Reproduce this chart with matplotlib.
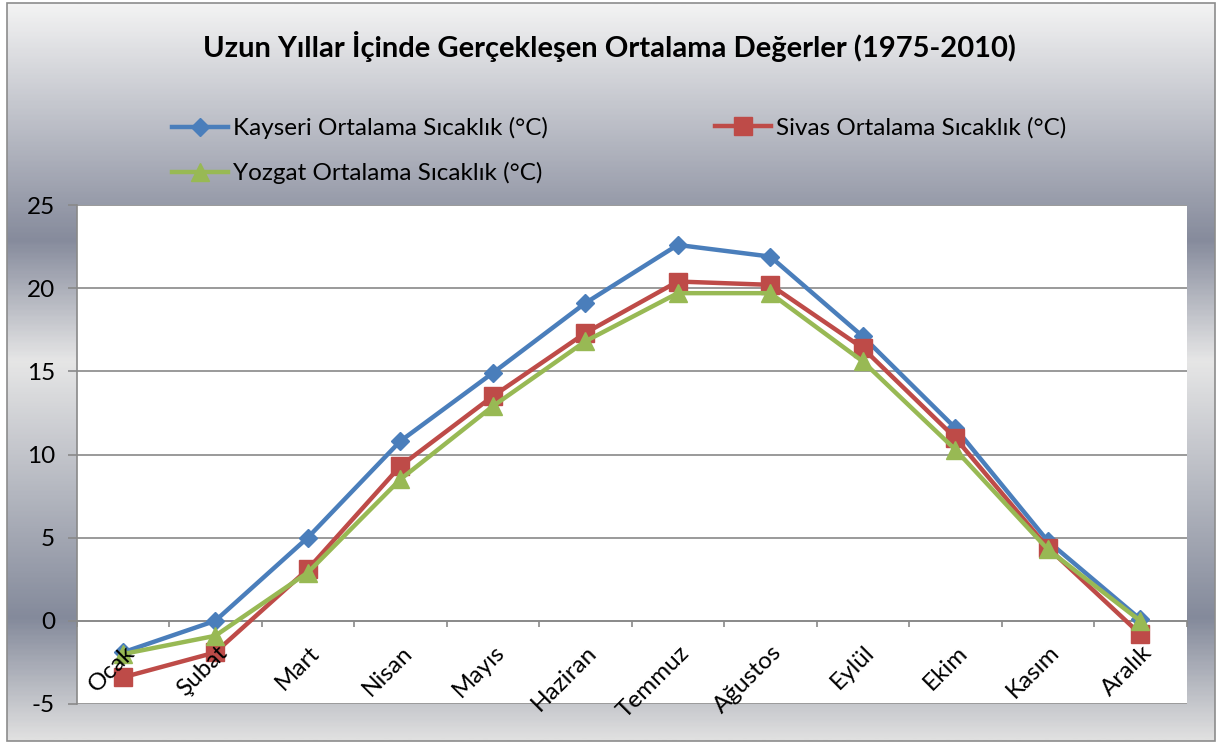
import numpy as np
import matplotlib
matplotlib.use('Agg')
import matplotlib.pyplot as plt
from matplotlib.colors import LinearSegmentedColormap
from matplotlib.patches import Rectangle
from matplotlib.lines import Line2D
from matplotlib.transforms import ScaledTranslation

plt.rcParams['font.family'] = ['Lato', 'DejaVu Sans']
plt.rcParams['axes.unicode_minus'] = False

months = ['Ocak', 'Şubat', 'Mart', 'Nisan', 'Mayıs', 'Haziran',
          'Temmuz', 'Ağustos', 'Eylül', 'Ekim', 'Kasım', 'Aralık']
kayseri = [-1.9, 0.0, 5.0, 10.8, 14.9, 19.1, 22.6, 21.9, 17.1, 11.6, 4.8, 0.1]
sivas = [-3.4, -1.9, 3.1, 9.3, 13.5, 17.3, 20.4, 20.2, 16.4, 11.0, 4.4, -0.8]
yozgat = [-2.0, -0.9, 2.9, 8.5, 12.9, 16.8, 19.7, 19.7, 15.6, 10.3, 4.3, 0.0]
series_names = ['Kayseri Ortalama Sıcaklık (°C)', 'Sivas Ortalama Sıcaklık (°C)',
                'Yozgat Ortalama Sıcaklık (°C)']
title = 'Uzun Yıllar İçinde Gerçekleşen Ortalama Değerler (1975-2010)'
yticks = [-5, 0, 5, 10, 15, 20, 25]

W, H = 1217, 743
FS = 17.5
fig = plt.figure(figsize=(W / 100, H / 100), dpi=100)
fig.patch.set_facecolor('white')

# arka plan gradyanı
bg = fig.add_axes([0, 0, 1, 1], zorder=-5)
bg.set_xlim(0, W); bg.set_ylim(H, 0); bg.axis('off')
cmap = LinearSegmentedColormap.from_list('chrome', [
    (0.0, '#f3f3f3'), (0.32, '#868b9c'), (0.485, '#e6e6e6'),
    (0.835, '#848a9b'), (1.0, '#e0e0e0')])
grad = np.linspace(0, 1, 400).reshape(-1, 1)
bg.imshow(grad, cmap=cmap, aspect='auto', extent=(7, 1215, 741, 3),
          interpolation='bilinear')
bg.add_patch(Rectangle((7, 3), 1208, 738, fill=False, edgecolor='#8c8c8c', lw=1.2))

ax = fig.add_axes([76.5 / W, 39 / H, 1110 / W, 499 / H])
ax.set_facecolor('white')
x = np.arange(len(months))
grid_c = '#898989'

# yatay ızgara çizgileri verinin altında
for yv in yticks:
    ax.axhline(yv, color=grid_c, lw=1.2, zorder=1)

styles = [(kayseri, '#4a7ebb', 'D', 9.5), (sivas, '#be4b48', 's', 13),
          (yozgat, '#98b954', '^', 13)]
for (vals, c, m, ms), name in zip(styles, series_names):
    ax.plot(x, vals, color=c, lw=3.2, marker=m, ms=ms, mec=c, mfc=c, label=name,
            zorder=2, clip_on=False)

ax.set_xlim(-0.5, 11.5)
ax.set_ylim(-5, 25)
ax.set_yticks(yticks)
ax.set_axisbelow(False)
for s in ['top', 'right']:
    ax.spines[s].set_visible(False)
for s in ['left', 'bottom']:
    ax.spines[s].set_color(grid_c)
    ax.spines[s].set_linewidth(1.2)
    ax.spines[s].set_zorder(1)
ax.spines['bottom'].set_position(('data', 0))
ax.tick_params(axis='y', length=6.5, width=1.2, color=grid_c, labelsize=FS,
               pad=9, labelcolor='black')

ax.set_xticks(x)
ax.set_xticklabels(months, rotation=45, ha='right', va='top',
                   rotation_mode='anchor', fontsize=FS)
ax.set_xticks(np.arange(-0.5, 12, 1), minor=True)
ax.tick_params(axis='x', which='major', length=0, pad=15)
ax.tick_params(axis='x', which='minor', length=4, width=1.2, color=grid_c)
off = ScaledTranslation(1 / 100, 0, fig.dpi_scale_trans)
for lbl in ax.get_xticklabels():
    lbl.set_transform(lbl.get_transform() + off)

fig.text(609 / W, 1 - 47 / H, title, ha='center', va='center',
         fontsize=21, fontweight='bold')

# gösterge
positions = [(172, 128), (715, 128), (172, 173)]
for (vals, c, m, ms), name, (px, py) in zip(styles, series_names, positions):
    h = Line2D([], [], color=c, lw=3.2, marker=m, ms=ms, mec=c, mfc=c)
    fig.legend([h], [name], loc='center left', bbox_to_anchor=(px / W, 1 - py / H),
               frameon=False, fontsize=FS, handlelength=2.3, handletextpad=0.2,
               borderpad=0, borderaxespad=0)

fig.savefig('out.png', dpi=100)
